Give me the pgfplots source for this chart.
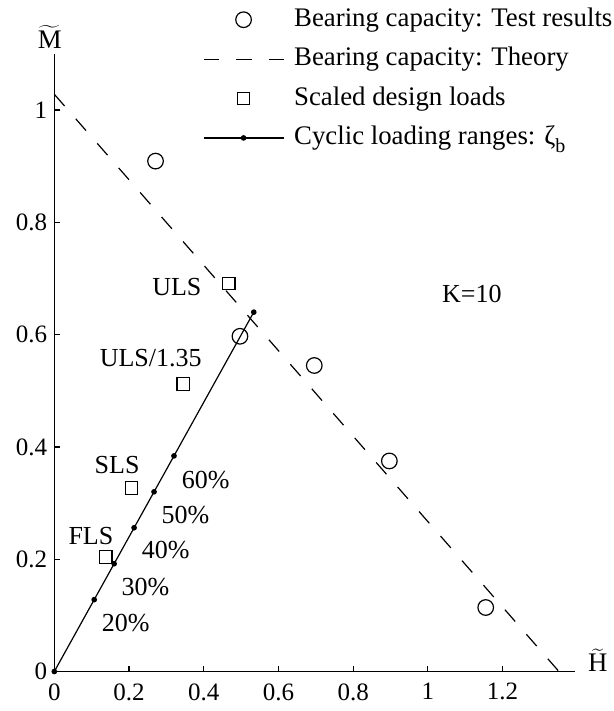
\documentclass[border=0pt]{standalone}
\usepackage{fontspec}
\setmainfont{Liberation Serif}
\usepackage{pgfplots}
\pgfplotsset{compat=1.18}

\begin{document}
\begin{tikzpicture}
\begin{axis}[
  scale only axis,
  width=260.5pt, height=308.8pt,
  xmin=0, xmax=1.395,
  ymin=0, ymax=1.1,
  axis lines=left,
  axis line style={-, line width=0.6pt},
  clip=false,
  xtick={0,0.2,0.4,0.6,0.8,1,1.2},
  ytick={0,0.2,0.4,0.6,0.8,1},
  xticklabels={0,0.2,0.4,0.6,0.8,1,1.2},
  yticklabels={0,0.2,0.4,0.6,0.8,1},
  tick align=inside,
  major tick length=2.8pt,
  tick style={line width=0.6pt, black},
  ticklabel style={font=\fontsize{12.5}{15}\selectfont},
  xticklabel style={yshift=-2.4pt},
  mylegimg/.style={legend image code/.code={%
    \draw[mark repeat=2,mark phase=2,##1] plot coordinates {(0pt,0pt) (20pt,0pt) (40pt,0pt)};}},
  legend cell align=left,
  legend style={at={(axis description cs:0.2853,1.0836)}, anchor=north west,
    draw=none, fill=none, inner sep=0pt, outer sep=0pt,
    row sep=2.2pt, column sep=0pt,
    /tikz/every odd column/.append style={column sep=3pt},
    font=\fontsize{13.4}{16}\selectfont,
    nodes={inner sep=2pt, text height=10pt, text depth=3.5pt}},
]

% bearing capacity, test results
\addplot[only marks, mark=o, mark size=3.9pt, mark options={line width=0.6pt}, mylegimg]
coordinates {
(0.271,0.909) (0.497,0.597) (0.696,0.545) (0.897,0.375) (1.155,0.114)
};
\addlegendentry{Bearing capacity: Test results}

% bearing capacity, theory
\addplot[line width=0.6pt, dash pattern=on 7.8pt off 8.5pt, mylegimg]
coordinates {(0,1.028) (1.351,0)};
\addlegendentry{Bearing capacity: Theory}

% scaled design loads
\addplot[only marks, mark=square, mark size=3.1pt, mark options={line width=0.6pt}, mylegimg]
coordinates {
(0.467,0.691) (0.345,0.512) (0.207,0.327) (0.138,0.204)
};
\addlegendentry{Scaled design loads}

% cyclic loading ranges
\addplot[line width=0.6pt, mark=*, mark size=1.1pt, mylegimg]
coordinates {
(0,0) (0.1068,0.128) (0.1602,0.192) (0.2136,0.256) (0.267,0.320) (0.3204,0.384) (0.534,0.640)
};
\addlegendentry{Cyclic loading ranges: ζ\raisebox{-4pt}{\fontsize{10}{12}\selectfont b}}

\begin{scope}[font=\fontsize{13}{15.6}\selectfont]
\node[anchor=base] at (axis cs:0.328,0.670) {ULS};
\node[anchor=base] at (axis cs:0.258,0.543) {ULS/1.35};
\node[anchor=base] at (axis cs:0.168,0.352) {SLS};
\node[anchor=base] at (axis cs:0.098,0.227) {FLS};
\node[anchor=base] at (axis cs:0.405,0.326) {60\%};
\node[anchor=base] at (axis cs:0.351,0.263) {50\%};
\node[anchor=base] at (axis cs:0.298,0.2016) {40\%};
\node[anchor=base] at (axis cs:0.244,0.136) {30\%};
\node[anchor=base] at (axis cs:0.191,0.071) {20\%};
\node[anchor=base] at (axis cs:1.118,0.657) {K=10};
\end{scope}
\begin{scope}[font=\fontsize{13.4}{16}\selectfont]
\node at (axis cs:-0.012,1.13) {$\widetilde{\mathrm{M}}$};
\node at (axis cs:1.455,0.02) {$\widetilde{\mathrm{H}}$};
\end{scope}

\coordinate (bbll) at (axis cs:-0.1454,-0.0703);
\coordinate (bbur) at (axis cs:1.4959,1.1959);
\end{axis}
\pgfresetboundingbox
\path[use as bounding box] (bbll) rectangle (bbur);
\end{tikzpicture}
\end{document}
